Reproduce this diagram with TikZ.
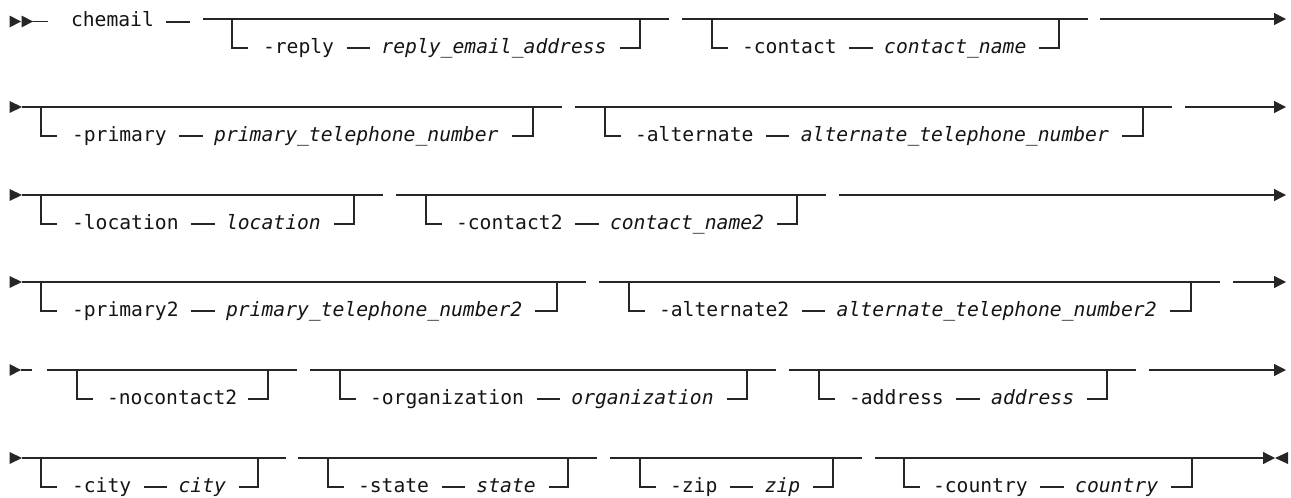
\documentclass[tikz,border=0pt]{standalone}
\usepackage{fontspec}
\newfontfamily\rrfont{DejaVu Sans Mono}
\usetikzlibrary{arrows.meta}
\tikzset{
  rail/.style={line width=1.3pt, draw=black!85},
  txt/.style={inner sep=0pt, outer sep=0pt, anchor=base west, text=black!92},
  kw/.style={txt, font=\rrfont\fontsize{19.68}{22}\selectfont},
  var/.style={txt, font=\rrfont\itshape\fontsize{19.68}{22}\selectfont},
  endarrow/.style={rail, -{Triangle[length=12pt,width=12pt]}},
  tip/.style={fill=black!85, draw=none},
}
% optional group with keyword and variable
% #1 id, #2 main y, #3 line start, #4 left vertical x, #5 text x, #6 keyword, #7 variable, #8 right vertical x, #9 line end
\newcommand{\grpkv}[9]{%
  \coordinate (#1s) at (#3,#2);
  \coordinate (#1L) at (#4,#2);
  \coordinate (#1R) at (#8,#2);
  \coordinate (#1e) at (#9,#2);
  \coordinate (#1bl) at (#4,{#2+29});
  \coordinate (#1br) at (#8,{#2+29});
  \node[kw] (#1k) at (#5,{#2+34}) {#6};
  \node[var] (#1v) at ([xshift=47.4pt]#1k.base east) {#7};
  \draw[rail] (#1s) -- (#1e);
  \draw[rail] (#1L) -- (#1bl) -- ++(16,0);
  \draw[rail, shorten <=12.5pt, shorten >=11.5pt] (#1k.base east |- #1bl) -- (#1v.base west |- #1bl);
  \draw[rail, shorten <=13pt] (#1v.base east |- #1br) -- (#1br) -- (#1R);
}
% optional group with keyword only
\newcommand{\grpk}[8]{%
  \coordinate (#1s) at (#3,#2);
  \coordinate (#1L) at (#4,#2);
  \coordinate (#1R) at (#7,#2);
  \coordinate (#1e) at (#8,#2);
  \coordinate (#1bl) at (#4,{#2+29});
  \coordinate (#1br) at (#7,{#2+29});
  \node[kw] (#1k) at (#5,{#2+34}) {#6};
  \draw[rail] (#1s) -- (#1e);
  \draw[rail] (#1L) -- (#1bl) -- ++(16,0);
  \draw[rail, shorten <=11pt] (#1k.base east |- #1br) -- (#1br) -- (#1R);
}
\begin{document}
\begin{tikzpicture}[x=1pt,y=-1pt]
\useasboundingbox (0,0) rectangle (1291,498);

% ---------- row 1 ----------
\coordinate (t1) at (21,21.5);
\coordinate (t2) at (33,21.5);
\coordinate (t2e) at (48,21.5);
\fill[tip] (t1) -- ++(-11.5,-6) -- ++(0,12) -- cycle;
\fill[tip] (t2) -- ++(-11.5,-6) -- ++(0,12) -- cycle;
\draw[rail] (t2) -- (t2e);
\node[kw] (cmd) at (71,26) {chemail};
\coordinate (cd1) at (166,22);
\coordinate (cd2) at (190,22);
\draw[rail] (cd1) -- (cd2);
\grpkv{a}{19}{203}{232}{263}{-reply}{reply\_email\_address}{640}{669}
\grpkv{b}{19}{682}{712}{742}{-contact}{contact\_name}{1059}{1088}
\coordinate (r1f) at (1100,19);
\coordinate (r1a) at (1286,19);
\draw[endarrow] (r1f) -- (r1a);

% ---------- row 2 ----------
\coordinate (r2s) at (22,107);
\fill[tip] (r2s) -- ++(-12.5,-6) -- ++(0,12) -- cycle;
\grpkv{c}{107}{22}{41}{72}{-primary}{primary\_telephone\_number}{533}{562}
\grpkv{d}{107}{575}{605}{635}{-alternate}{alternate\_telephone\_number}{1143}{1172}
\coordinate (r2f) at (1185,107);
\coordinate (r2a) at (1286,107);
\draw[endarrow] (r2f) -- (r2a);

% ---------- row 3 ----------
\coordinate (r3s) at (22,195);
\fill[tip] (r3s) -- ++(-12.5,-6) -- ++(0,12) -- cycle;
\grpkv{e}{195}{22}{41}{72}{-location}{location}{354}{383}
\grpkv{f}{195}{396}{426}{456}{-contact2}{contact\_name2}{797}{826}
\coordinate (r3f) at (839,195);
\coordinate (r3a) at (1286,195);
\draw[endarrow] (r3f) -- (r3a);

% ---------- row 4 ----------
\coordinate (r4s) at (22,282);
\fill[tip] (r4s) -- ++(-12.5,-6) -- ++(0,12) -- cycle;
\grpkv{g}{282}{22}{41}{72}{-primary2}{primary\_telephone\_number2}{557}{586}
\grpkv{h}{282}{599}{629}{659}{-alternate2}{alternate\_telephone\_number2}{1191}{1220}
\coordinate (r4f) at (1233,282);
\coordinate (r4a) at (1286,282);
\draw[endarrow] (r4f) -- (r4a);

% ---------- row 5 ----------
\coordinate (r5s) at (21,370);
\coordinate (r5d) at (32,370);
\fill[tip] (r5s) -- ++(-11.5,-6) -- ++(0,12) -- cycle;
\draw[rail] (r5s) -- (r5d);
\grpk{i}{370}{47}{77}{107}{-nocontact2}{268}{297}
\grpkv{j}{370}{310}{340}{370}{-organization}{organization}{747}{776}
\grpkv{k}{370}{789}{819}{849}{-address}{address}{1107}{1136}
\coordinate (r5f) at (1149,370);
\coordinate (r5a) at (1286,370);
\draw[endarrow] (r5f) -- (r5a);

% ---------- row 6 ----------
\coordinate (r6s) at (22,458);
\fill[tip] (r6s) -- ++(-12.5,-6) -- ++(0,12) -- cycle;
\grpkv{l}{458}{22}{41}{72}{-city}{city}{258}{286}
\grpkv{m}{458}{298}{328}{358}{-state}{state}{568}{597}
\grpkv{n}{458}{610}{640}{670}{-zip}{zip}{833}{862}
\grpkv{o}{458}{875}{904}{933}{-country}{country}{1192}{1221}
\coordinate (r6a) at (1275,458);
\draw[endarrow] (oe) -- (r6a);
\fill[tip] (r6a) -- ++(13,-6) -- ++(0,12) -- cycle;

\end{tikzpicture}
\end{document}
